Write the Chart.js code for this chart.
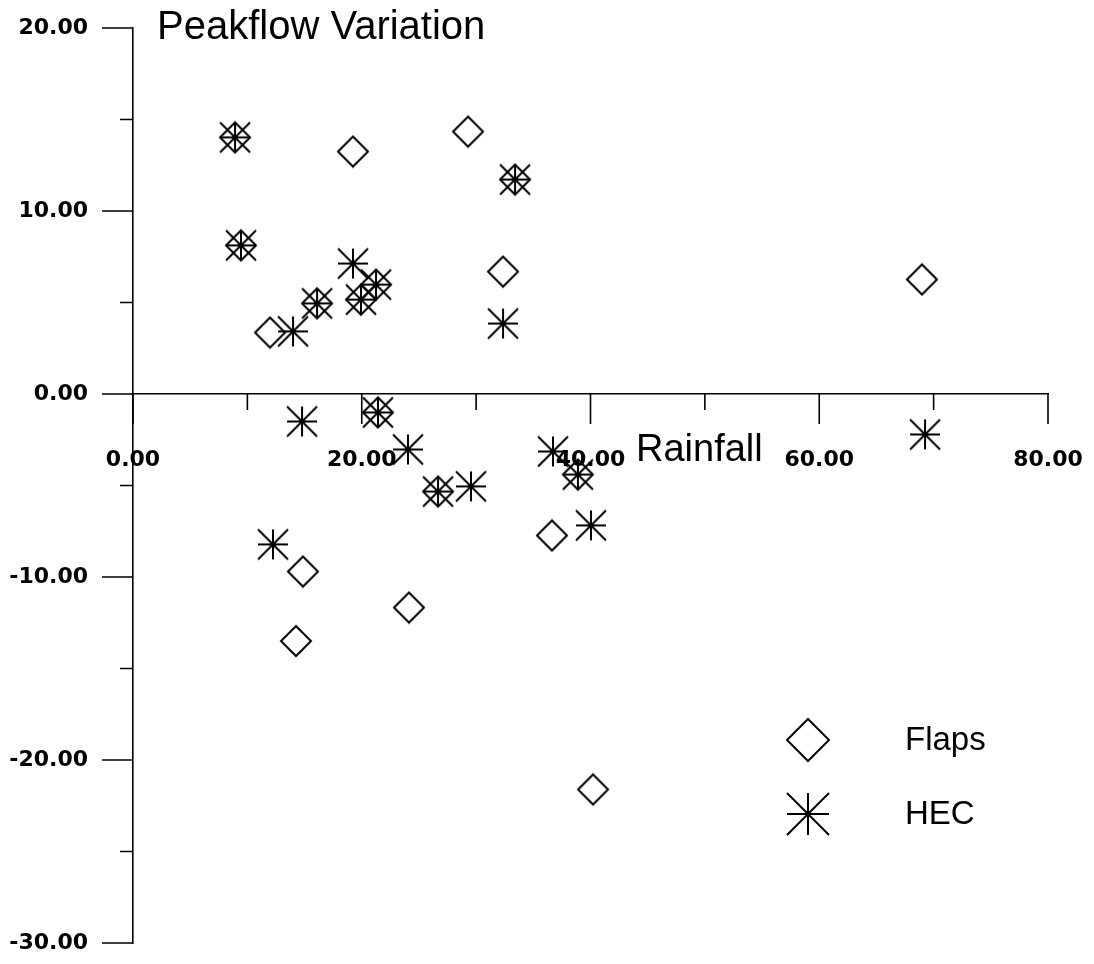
<!DOCTYPE html>
<html>
<head>
<meta charset="utf-8">
<script src="https://cdn.jsdelivr.net/npm/chart.js@4.4.1/dist/chart.umd.min.js"></script>
<style>
  html, body { margin: 0; padding: 0; background: #fff; }
  #wrap { width: 1094px; height: 964px; }
</style>
</head>
<body>
<div id="wrap"><canvas id="peakChart"></canvas></div>
<script>
// Series values (Rainfall vs Peakflow Variation)
const flapsX = [8.92, 9.44, 33.4, 16.09, 19.93, 21.25, 21.42, 26.67, 38.9,
                29.29, 19.23, 32.35, 68.98, 11.98, 36.63, 14.86, 24.13, 14.25, 40.22];
const flapsY = [14.02, 8.12, 11.72, 4.95, 5.16, 5.98, -1.01, -5.33, -4.4,
                14.34, 13.25, 6.69, 6.26, 3.36, -7.73, -9.7, -11.67, -13.5, -21.61];

const hecX = [8.92, 9.44, 33.4, 16.09, 19.93, 21.25, 21.42, 26.67, 38.9,
              19.23, 13.99, 32.35, 14.78, 24.04, 36.72, 69.25, 29.55, 40.04, 12.24];
const hecY = [14.02, 8.12, 11.72, 4.95, 5.16, 5.98, -1.01, -5.33, -4.4,
              7.13, 3.42, 3.85, -1.5, -3.03, -3.14, -2.21, -5.05, -7.18, -8.22];

const seriesNames = ['Flaps', 'HEC'];
const chartTitle = 'Peakflow Variation';
const xAxisTitle = 'Rainfall';

// Marker images
function makeDiamond(r, lw) {
    const c = document.createElement('canvas');
    const s = Math.ceil(2 * r + lw + 2);
    c.width = s; c.height = s;
    const g = c.getContext('2d');
    const m = s / 2;
    g.strokeStyle = '#000';
    g.lineWidth = lw;
    g.beginPath();
    g.moveTo(m - r, m);
    g.lineTo(m, m - r);
    g.lineTo(m + r, m);
    g.lineTo(m, m + r);
    g.closePath();
    g.stroke();
    return c;
}

function makeStar(r, lw) {
    const c = document.createElement('canvas');
    const s = Math.ceil(2 * r + lw + 2);
    c.width = s; c.height = s;
    const g = c.getContext('2d');
    const m = s / 2;
    g.strokeStyle = '#000';
    g.lineWidth = lw;
    g.beginPath();
    g.moveTo(m - r, m); g.lineTo(m + r, m);
    g.moveTo(m, m - r); g.lineTo(m, m + r);
    g.moveTo(m - r, m - r); g.lineTo(m + r, m + r);
    g.moveTo(m - r, m + r); g.lineTo(m + r, m - r);
    g.stroke();
    g.fillStyle = '#000';
    g.fillRect(m - 2, m - 2, 4, 4);
    return c;
}

const diamondPt = makeDiamond(15, 2);
const starPt = makeStar(15, 2);
const diamondLeg = makeDiamond(21, 2);
const starLeg = makeStar(21, 2);

function toPoints(xs, ys) {
    return xs.map((x, i) => ({ x: x, y: ys[i] }));
}

function noScalePadding(scale) {
    scale.paddingLeft = 0;
    scale.paddingRight = 0;
    scale.paddingTop = 0;
    scale.paddingBottom = 0;
}

// Tick marks: long for labelled values, short for the ones between
const axisTicks = {
    id: 'axisTicks',
    afterDraw(chart) {
        const ctx = chart.ctx;
        const xs = chart.scales.x;
        const ys = chart.scales.y;
        const x0 = ys.left + ys.width;
        const y0 = ys.getPixelForValue(0);
        ctx.save();
        ctx.strokeStyle = '#000';
        ctx.lineWidth = 1.6;
        ctx.beginPath();
        ys.ticks.forEach(t => {
            const py = ys.getPixelForValue(t.value);
            const len = t.value % 10 === 0 ? 31 : 13;
            ctx.moveTo(x0 - len, py);
            ctx.lineTo(x0, py);
        });
        xs.ticks.forEach(t => {
            const px = xs.getPixelForValue(t.value);
            const len = t.value % 20 === 0 ? 30 : 16;
            ctx.moveTo(px, y0);
            ctx.lineTo(px, y0 + len);
        });
        ctx.stroke();
        ctx.restore();
    }
};

// Title, axis title and legend placed inside the plot like the original
const annotations = {
    id: 'annotations',
    afterDraw(chart) {
        const ctx = chart.ctx;
        ctx.save();
        ctx.fillStyle = '#000';
        ctx.textAlign = 'left';
        ctx.textBaseline = 'alphabetic';
        ctx.font = '40px "Liberation Sans", Arial, sans-serif';
        ctx.fillText(chartTitle, 157, 39);
        ctx.font = '38px "Liberation Sans", Arial, sans-serif';
        ctx.fillText(xAxisTitle, 636, 461);

        const legImgs = [diamondLeg, starLeg];
        const legY = [740, 814];
        ctx.font = '33px "Liberation Sans", Arial, sans-serif';
        ctx.textBaseline = 'middle';
        seriesNames.forEach((name, i) => {
            const img = legImgs[i];
            ctx.drawImage(img, 808 - img.width / 2, legY[i] - img.height / 2);
            ctx.fillText(name, 905, legY[i] + 1);
        });
        ctx.restore();
    }
};

const ctx = document.getElementById('peakChart');

new Chart(ctx, {
    type: 'scatter',
    data: {
        datasets: [{
            label: seriesNames[0],
            data: toPoints(flapsX, flapsY),
            pointStyle: diamondPt,
            pointRadius: 15,
            showLine: false
        }, {
            label: seriesNames[1],
            data: toPoints(hecX, hecY),
            pointStyle: starPt,
            pointRadius: 15,
            showLine: false
        }]
    },
    options: {
        responsive: true,
        maintainAspectRatio: false,
        animation: false,
        layout: {
            padding: { left: 0, right: 46, top: 28, bottom: 21 }
        },
        plugins: {
            legend: { display: false },
            title: { display: false },
            tooltip: { enabled: false }
        },
        scales: {
            x: {
                type: 'linear',
                position: { y: 0 },
                min: 0,
                max: 80,
                grid: { display: false },
                border: { display: true, color: '#000', width: 1.6 },
                afterFit: noScalePadding,
                ticks: {
                    stepSize: 10,
                    autoSkip: false,
                    maxRotation: 0,
                    padding: 45,
                    color: '#000',
                    font: { family: '"DejaVu Sans", sans-serif', size: 22, weight: 'bold' },
                    callback: function(value) {
                        return value % 20 === 0 ? value.toFixed(2) : '';
                    }
                }
            },
            y: {
                type: 'linear',
                position: 'left',
                min: -30,
                max: 20,
                grid: { display: false },
                border: { display: true, color: '#000', width: 1.6 },
                afterFit: function(scale) {
                    scale.width = 133;
                    noScalePadding(scale);
                },
                ticks: {
                    stepSize: 5,
                    autoSkip: false,
                    padding: 37,
                    color: '#000',
                    font: { family: '"DejaVu Sans", sans-serif', size: 22, weight: 'bold' },
                    callback: function(value) {
                        return value % 10 === 0 ? value.toFixed(2) : '';
                    }
                }
            }
        }
    },
    plugins: [axisTicks, annotations]
});
</script>
</body>
</html>
